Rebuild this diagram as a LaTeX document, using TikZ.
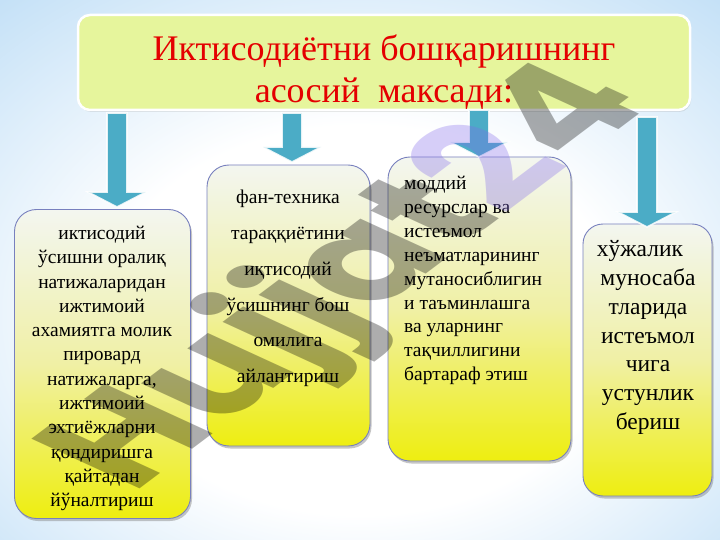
\documentclass[tikz,border=0pt]{standalone}
\usepackage{fontspec}
\setmainfont{Liberation Serif}
\newfontfamily\wmfont{Poppins}
\usetikzlibrary{shadows,calc}
\definecolor{bgblue}{RGB}{160,206,242}
\definecolor{titlefill}{RGB}{230,245,156}
\definecolor{titlered}{RGB}{228,0,0}
\definecolor{arrowblue}{RGB}{75,172,198}
\definecolor{boxtop}{RGB}{243,246,240}
\definecolor{boxmid}{RGB}{240,240,165}
\definecolor{boxbot}{RGB}{238,238,16}
\definecolor{boxline}{RGB}{120,128,190}
\definecolor{wmpurple}{RGB}{130,105,235}
\pgfdeclareradialshading{bgshade}{\pgfpoint{0bp}{-6bp}}{color(0bp)=(white); color(18bp)=(white); color(50bp)=(bgblue); color(80bp)=(bgblue)}
\newcommand\blockarrow[2]{%
  \path[arrowstyle] let \p1=(#1), \p2=(#2) in
    (\x1-10pt,\y1) -- (\x1+10pt,\y1) -- (\x1+10pt,\y2+15pt) -- (\x1+29pt,\y2+15pt)
    -- (\x1,\y2) -- (\x1-29pt,\y2+15pt) -- (\x1-10pt,\y2+15pt) -- cycle;}
\begin{document}
\begin{tikzpicture}[x=1pt,y=-1pt,
  goalbox/.style={draw=boxline, line width=0.9pt, rounded corners=22pt,
    top color=boxtop, bottom color=boxbot, middle color=boxmid, inner sep=0pt,
    drop shadow={shadow xshift=1.5pt, shadow yshift=-2.5pt, opacity=0.45}},
  titlebox/.style={fill=titlefill, draw=white, line width=2.5pt, rounded corners=12pt,
    inner sep=0pt, drop shadow={shadow xshift=1pt, shadow yshift=-2pt, opacity=0.2}},
  arrowstyle/.style={fill=arrowblue, draw=white, draw opacity=0.85, line width=1.6pt, line join=miter},
  boxtext/.style={font=\fontsize{19.5}{24.3}\selectfont, align=center, inner sep=0pt, text=black},
]
\useasboundingbox (0,0) rectangle (720,540);
\shade[shading=bgshade] (0,0) rectangle (720,540);

% title
\node[titlebox, minimum width=612pt, minimum height=95pt] (title) at (384,62.5) {};
\node[font=\fontsize{36}{42}\selectfont, text=titlered, align=center, inner sep=0pt] (ttl) at (384,72)
  {Иктисодиётни бошқаришнинг\\асосий\ \ максади:};

% boxes
\node[goalbox, minimum width=176pt, minimum height=309pt] (b1) at (102.5,364) {};
\node[goalbox, minimum width=163pt, minimum height=281pt] (b2) at (288.5,305.5) {};
\node[goalbox, minimum width=183pt, minimum height=304pt] (b3) at (479.5,309) {};
\node[goalbox, minimum width=129pt, minimum height=272pt, rounded corners=20pt] (b4) at (647.5,360) {};

% box texts
\node[boxtext] (t1) at (102,368.5) {иктисодий\\ўсишни оралиқ\\натижаларидан\\ижтимоий\\ахамиятга молик\\пировард\\натижаларга,\\ижтимоий\\эхтиёжларни\\қондиришга\\қайтадан\\йўналтириш};
\node[boxtext, font=\fontsize{19.5}{35.8}\selectfont] (t2) at (288,288.5) {фан-техника\\тараққиётини\\иқтисодий\\ўсишнинг бош\\омилига\\айлантириш};
\node[boxtext, align=left, anchor=west, font=\fontsize{19.5}{23.9}\selectfont] (t3) at (404,280.5) {моддий\\ресурслар ва\\истеъмол\\неъматларининг\\мутаносиблигин\\и таъминлашга\\ва уларнинг\\тақчиллигини\\бартараф этиш};
\node[boxtext, font=\fontsize{23.5}{28.8}\selectfont] (t4) at (648,337.5) {хўжалик\kern16pt\\муносаба\\тларида\\истеъмол\\чига\\устунлик\\бериш};

% arrows
\coordinate (a1t) at (117,113); \coordinate (a1b) at (117,207);
\coordinate (a2t) at (292,113); \coordinate (a2b) at (292,162);
\coordinate (a3t) at (479,110); \coordinate (a3b) at (479,157);
\coordinate (a4t) at (647,117); \coordinate (a4b) at (647,227);
\blockarrow{a1t}{a1b}
\blockarrow{a2t}{a2b}
\blockarrow{a3t}{a3b}
\blockarrow{a4t}{a4b}

% watermark
\begin{scope}[shift={(352,280)}, xscale=1.7, rotate=52]
  \node[transform shape, inner sep=0pt, text opacity=0.32,
        font=\wmfont\bfseries\fontsize{115}{125}\selectfont] (wm) at (0,0)
    {\textcolor{black}{Hujjat}\textcolor{wmpurple}{2}\textcolor{black}{4}};
\end{scope}
\end{tikzpicture}
\end{document}
